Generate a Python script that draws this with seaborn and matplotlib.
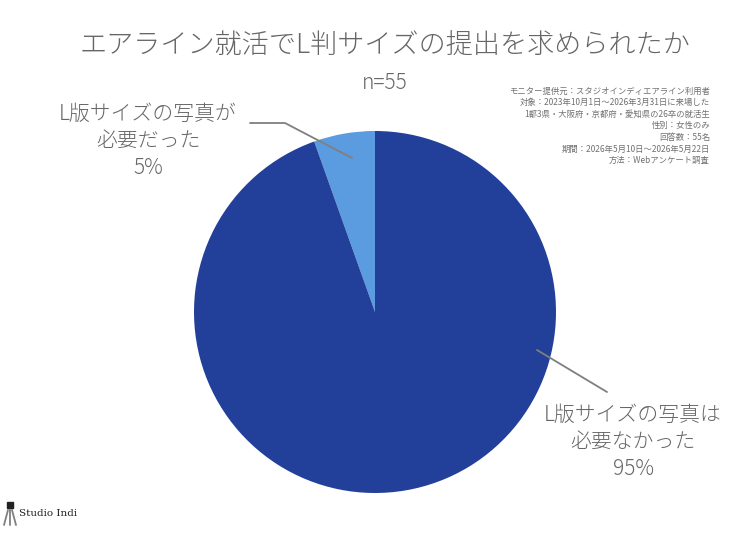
import matplotlib
matplotlib.use("Agg")
import matplotlib.pyplot as plt
from matplotlib.lines import Line2D
import seaborn as sns

# data
labels = ["L版サイズの写真が\n必要だった", "L版サイズの写真は\n必要なかった"]
counts = [3, 52]
pct_text = ["5%", "95%"]
colors = ["#5B9BE0", "#223F99"]

title = "エアライン就活でL判サイズの提出を求められたか"
subtitle = "n=55"
notes = [
    "モニター提供元：スタジオインディエアライン利用者",
    "対象：2023年10月1日〜2026年3月31日に来場した",
    "1都3県・大阪府・京都府・愛知県の26卒の就活生",
    "性別：女性のみ",
    "回答数：55名",
    "期間：2026年5月10日〜2026年5月22日",
    "方法：Webアンケート調査",
]

sns.set_theme(style="white")
plt.rcParams["font.family"] = ["Noto Sans CJK JP", "DejaVu Sans"]
gray = "#666666"

fig = plt.figure(figsize=(7.5, 5.36), dpi=100)
ax = fig.add_axes([(375 - 181) / 750, (536 - 493) / 536, 362 / 750, 362 / 536])
ax.pie(counts, colors=colors, startangle=90, counterclock=True, radius=1,
       wedgeprops=dict(linewidth=0))
ax.set_xlim(-1, 1)
ax.set_ylim(-1, 1)
ax.set_aspect("equal")
ax.axis("off")

fig.text(384.5 / 750, 1 - 46 / 536, title, ha="center", va="center", fontsize=19.5,
         color=gray, fontweight="light")
fig.text(385 / 750, 1 - 83 / 536, subtitle, ha="center", va="center", fontsize=15,
         color=gray, fontweight="light")

for i, line in enumerate(notes):
    fig.text(710 / 750, 1 - (91 + i * 11.6) / 536, line, ha="right", va="center",
             fontsize=6, color="#707070")

# slice labels
fig.text(148 / 750, 1 - 141 / 536, labels[0] + "\n" + pct_text[0], ha="center", va="center",
         fontsize=15, color=gray, linespacing=1.32, fontweight="light")
fig.text(633 / 750, 1 - 442 / 536, labels[1] + "\n" + pct_text[1], ha="center", va="center",
         fontsize=15, color=gray, linespacing=1.32, fontweight="light")

# leader lines
def leader(xs, ys):
    fig.add_artist(Line2D([x / 750 for x in xs], [1 - y / 536 for y in ys],
                          transform=fig.transFigure, color="#7f7f7f", lw=1.3))

leader([250, 285, 352], [123, 123, 158])
leader([537, 607], [350, 392])

# logo
leader([8, 4], [510, 525])
leader([10, 10], [510, 525])
leader([12, 16], [510, 525])
fig.add_artist(Line2D([10 / 750], [1 - 505 / 536], transform=fig.transFigure, marker="s",
                      markersize=5, color="#222222"))
fig.text(19 / 750, 1 - 513 / 536, "Studio Indi", ha="left", va="center", fontsize=7.5,
         color="#222222", family="DejaVu Serif")

fig.savefig("out.png", dpi=100, facecolor="white")
